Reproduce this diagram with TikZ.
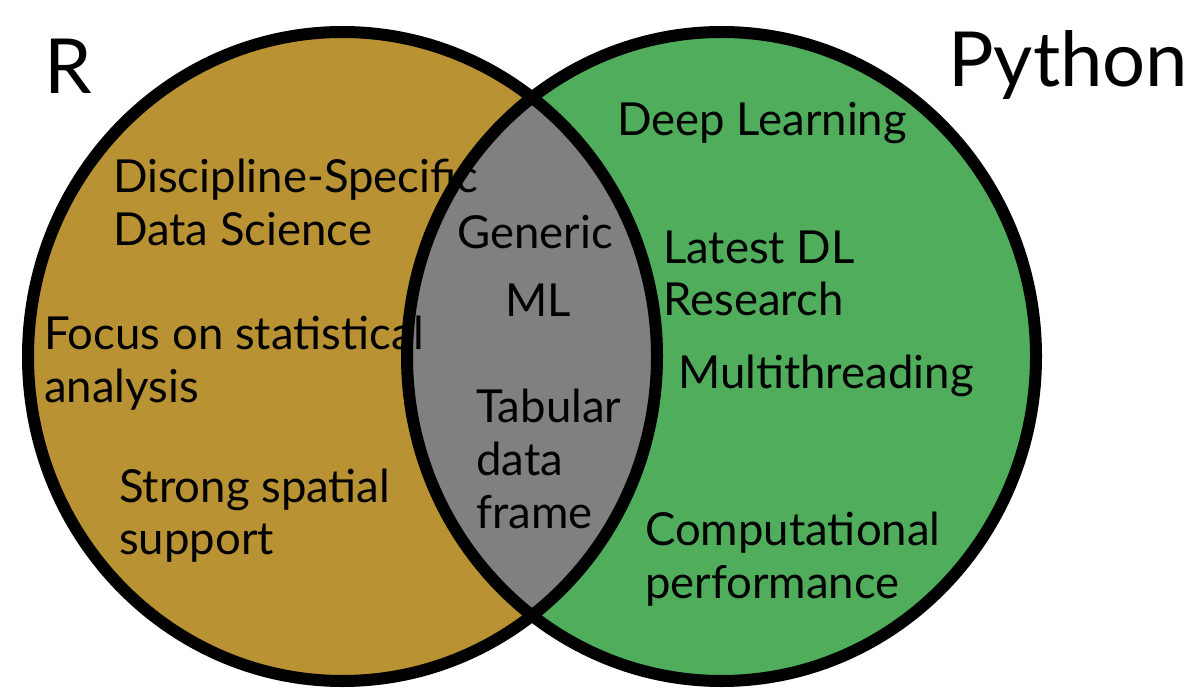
\documentclass[tikz,border=0pt]{standalone}
\usepackage{fontspec}
\setmainfont{Lato}
\definecolor{rgold}{RGB}{184,146,51}
\definecolor{pygreen}{RGB}{79,173,91}
\definecolor{lensgray}{RGB}{128,128,128}
\begin{document}
\begin{tikzpicture}[x=1pt,y=-1pt,
  lbl/.style={anchor=base west,inner sep=0pt,font=\fontsize{45.5}{53}\selectfont},
  big/.style={anchor=base west,inner sep=0pt,font=\fontsize{76}{86}\selectfont},
  ring/.style={draw=black,line width=12pt}]
\useasboundingbox (0,0) rectangle (1204,700);
\fill[white] (0,0) rectangle (1204,700);
% fills
\fill[rgold] (342.5,356.5) ellipse [x radius=314.5, y radius=324.5];
\fill[pygreen] (721.5,356.5) ellipse [x radius=314.5, y radius=324.5];
\begin{scope}
  \clip (342.5,356.5) ellipse [x radius=314.5, y radius=324.5];
  \fill[lensgray] (721.5,356.5) ellipse [x radius=314.5, y radius=324.5];
\end{scope}
% titles
\node[big] (tR) at (44,94) {R};
\node[big] (tPy) at (948,87) {Python};
% R texts
\node[lbl] (ds1) at (113,193) {Discipline-Specific};
\node[lbl] (ds2) at (113,246) {Data Science};
\node[lbl] (fs1) at (44,349) {Focus on statistical};
\node[lbl] (fs2) at (44,402) {analysis};
\node[lbl] (ss1) at (119,502) {Strong spatial};
\node[lbl] (ss2) at (119,554) {support};
% lens texts
\node[lbl] (gm1) at (457,249) {Generic};
\node[lbl] (gm2) at (505,317) {ML};
\node[lbl] (tb1) at (476,422) {Tabular};
\node[lbl] (tb2) at (476,475) {data};
\node[lbl] (tb3) at (476,528) {frame};
% Python texts
\node[lbl] (dl) at (617,136) {Deep Learning};
\node[lbl] (lr1) at (663,264) {Latest DL};
\node[lbl] (lr2) at (663,316) {Research};
\node[lbl] (mt) at (678,388) {Multithreading};
\node[lbl] (cp1) at (645,545) {Computational};
\node[lbl] (cp2) at (645,598) {performance};
% outlines
\draw[ring] (342.5,356.5) ellipse [x radius=314.5, y radius=324.5];
\draw[ring] (721.5,356.5) ellipse [x radius=314.5, y radius=324.5];
\end{tikzpicture}
\end{document}
